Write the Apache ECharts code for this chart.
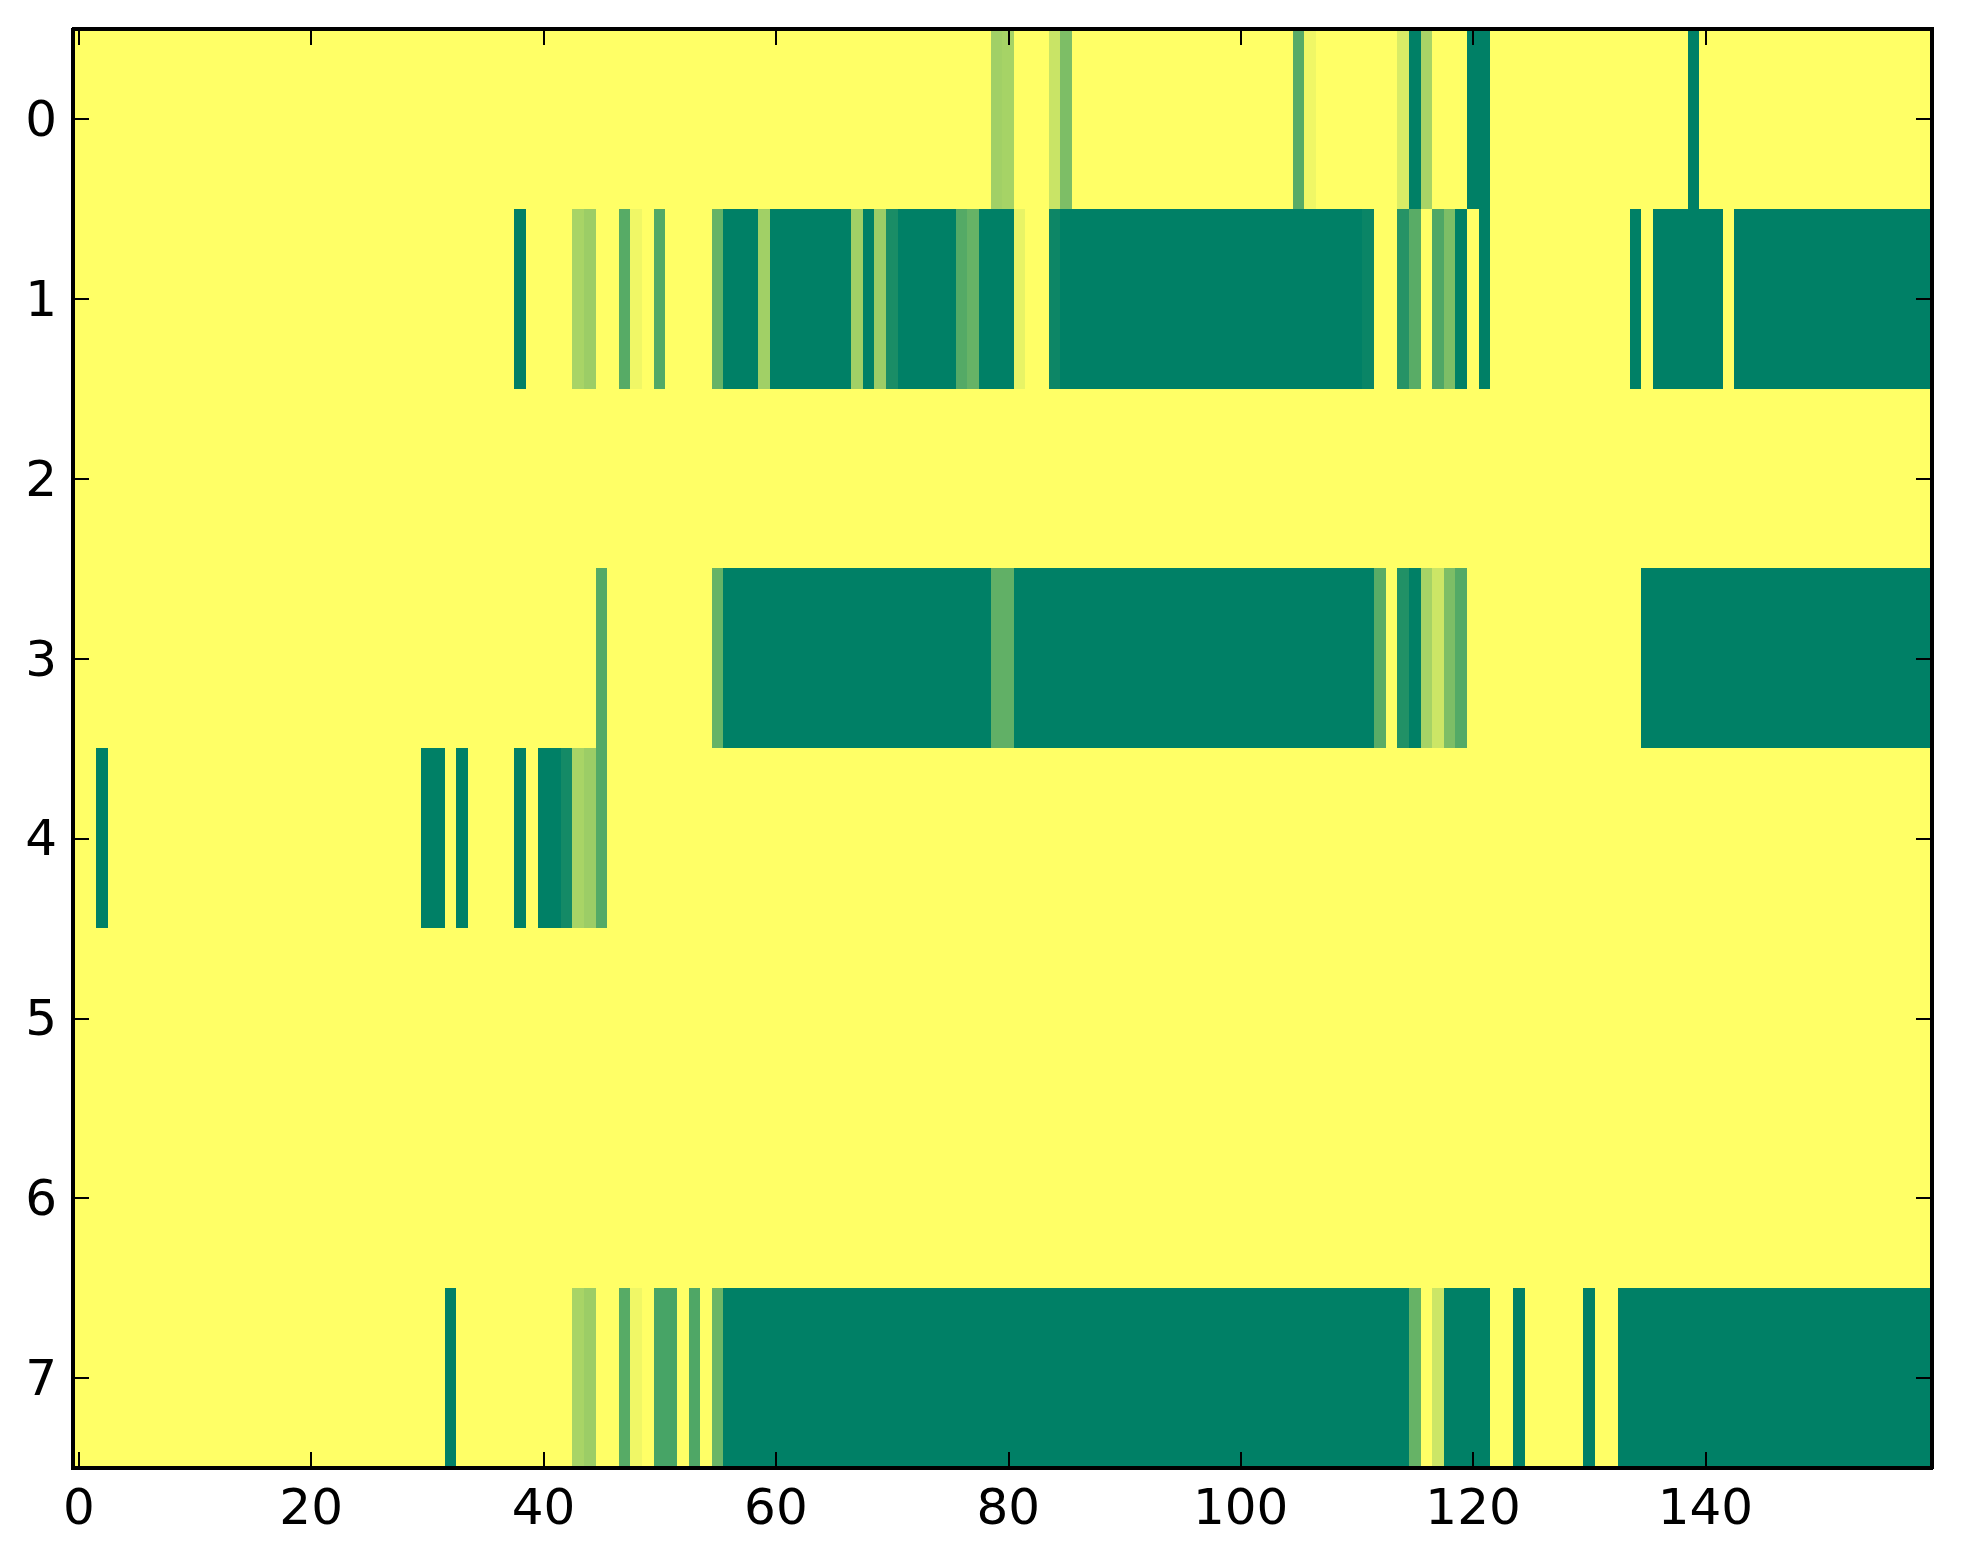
<!DOCTYPE html>
<html>
<head>
<meta charset="utf-8">
<script src="https://cdn.jsdelivr.net/npm/echarts@6/dist/echarts.min.js"></script>
<style>
html,body{margin:0;padding:0;background:#fff;}
#chart{width:1963px;height:1564px;}
#chart svg path{shape-rendering:crispEdges;}
</style>
</head>
<body>
<div id="chart"></div>
<script>
// Row labels (y axis, top to bottom) and tick labels
var yCats = ['0','1','2','3','4','5','6','7'];
var xTickStep = 20;

// Cell values per row (160 columns each, 0 = yellow, 1 = dark green)
var row0 = [
 0,0,0,0,0,0,0,0,0,0,
 0,0,0,0,0,0,0,0,0,0,
 0,0,0,0,0,0,0,0,0,0,
 0,0,0,0,0,0,0,0,0,0,
 0,0,0,0,0,0,0,0,0,0,
 0,0,0,0,0,0,0,0,0,0,
 0,0,0,0,0,0,0,0,0,0,
 0,0,0,0,0,0,0,0,0,0.37,
 0.35,0,0,0,0.21,0.51,0,0,0,0,
 0,0,0,0,0,0,0,0,0,0,
 0,0,0,0,0,0.66,0.06,0,0,0,
 0,0,0,0,0.15,1,0.34,0,0,0,
 1,1,0,0,0,0,0,0,0,0,
 0,0,0,0,0,0,0,0,0,1,
 0,0,0,0,0,0,0,0,0,0,
 0,0,0,0,0,0,0,0,0,0
];
var row1 = [
 0,0,0,0,0,0,0,0,0,0,
 0,0,0,0,0,0,0,0,0,0,
 0,0,0,0,0,0,0,0,0,0,
 0,0,0,0,0,0,0,0,1,0,
 0,0,0,0.34,0.39,0,0,0.66,0.06,0,
 0.68,0,0,0,0,0.6,1,1,1,0.37,
 1,1,1,1,1,1,1,0.37,1,0.39,
 0.9,1,1,1,1,1,0.67,0.6,1,1,
 1,0.09,0,0,0.95,1,1,1,1,1,
 1,1,1,1,1,1,1,1,1,1,
 1,1,1,1,1,1,1,1,1,1,
 1,0.96,0,0,0.85,0.65,0,0.69,0.51,1,
 0,1,0,0,0,0,0,0,0,0,
 0,0,0,0,1,0,1,1,1,1,
 1,1,0,1,1,1,1,1,1,1,
 1,1,1,1,1,1,1,1,1,1
];
var row2 = [
 0,0,0,0,0,0,0,0,0,0,
 0,0,0,0,0,0,0,0,0,0,
 0,0,0,0,0,0,0,0,0,0,
 0,0,0,0,0,0,0,0,0,0,
 0,0,0,0,0,0,0,0,0,0,
 0,0,0,0,0,0,0,0,0,0,
 0,0,0,0,0,0,0,0,0,0,
 0,0,0,0,0,0,0,0,0,0,
 0,0,0,0,0,0,0,0,0,0,
 0,0,0,0,0,0,0,0,0,0,
 0,0,0,0,0,0,0,0,0,0,
 0,0,0,0,0,0,0,0,0,0,
 0,0,0,0,0,0,0,0,0,0,
 0,0,0,0,0,0,0,0,0,0,
 0,0,0,0,0,0,0,0,0,0,
 0,0,0,0,0,0,0,0,0,0
];
var row3 = [
 0,0,0,0,0,0,0,0,0,0,
 0,0,0,0,0,0,0,0,0,0,
 0,0,0,0,0,0,0,0,0,0,
 0,0,0,0,0,0,0,0,0,0,
 0,0,0,0,0,0.67,0,0,0,0,
 0,0,0,0,0,0.6,1,1,1,1,
 1,1,1,1,1,1,1,1,1,1,
 1,1,1,1,1,1,1,1,1,0.62,
 0.62,1,1,1,1,1,1,1,1,1,
 1,1,1,1,1,1,1,1,1,1,
 1,1,1,1,1,1,1,1,1,1,
 1,1,0.65,0,0.87,1,0.35,0.2,0.51,0.67,
 0,0,0,0,0,0,0,0,0,0,
 0,0,0,0,0,1,1,1,1,1,
 1,1,1,1,1,1,1,1,1,1,
 1,1,1,1,1,1,1,1,1,1
];
var row4 = [
 0,0,1,0,0,0,0,0,0,0,
 0,0,0,0,0,0,0,0,0,0,
 0,0,0,0,0,0,0,0,0,0,
 1,1,0,1,0,0,0,0,1,0,
 1,1,0.92,0.34,0.39,0.67,0,0,0,0,
 0,0,0,0,0,0,0,0,0,0,
 0,0,0,0,0,0,0,0,0,0,
 0,0,0,0,0,0,0,0,0,0,
 0,0,0,0,0,0,0,0,0,0,
 0,0,0,0,0,0,0,0,0,0,
 0,0,0,0,0,0,0,0,0,0,
 0,0,0,0,0,0,0,0,0,0,
 0,0,0,0,0,0,0,0,0,0,
 0,0,0,0,0,0,0,0,0,0,
 0,0,0,0,0,0,0,0,0,0,
 0,0,0,0,0,0,0,0,0,0
];
var row5 = [
 0,0,0,0,0,0,0,0,0,0,
 0,0,0,0,0,0,0,0,0,0,
 0,0,0,0,0,0,0,0,0,0,
 0,0,0,0,0,0,0,0,0,0,
 0,0,0,0,0,0,0,0,0,0,
 0,0,0,0,0,0,0,0,0,0,
 0,0,0,0,0,0,0,0,0,0,
 0,0,0,0,0,0,0,0,0,0,
 0,0,0,0,0,0,0,0,0,0,
 0,0,0,0,0,0,0,0,0,0,
 0,0,0,0,0,0,0,0,0,0,
 0,0,0,0,0,0,0,0,0,0,
 0,0,0,0,0,0,0,0,0,0,
 0,0,0,0,0,0,0,0,0,0,
 0,0,0,0,0,0,0,0,0,0,
 0,0,0,0,0,0,0,0,0,0
];
var row6 = [
 0,0,0,0,0,0,0,0,0,0,
 0,0,0,0,0,0,0,0,0,0,
 0,0,0,0,0,0,0,0,0,0,
 0,0,0,0,0,0,0,0,0,0,
 0,0,0,0,0,0,0,0,0,0,
 0,0,0,0,0,0,0,0,0,0,
 0,0,0,0,0,0,0,0,0,0,
 0,0,0,0,0,0,0,0,0,0,
 0,0,0,0,0,0,0,0,0,0,
 0,0,0,0,0,0,0,0,0,0,
 0,0,0,0,0,0,0,0,0,0,
 0,0,0,0,0,0,0,0,0,0,
 0,0,0,0,0,0,0,0,0,0,
 0,0,0,0,0,0,0,0,0,0,
 0,0,0,0,0,0,0,0,0,0,
 0,0,0,0,0,0,0,0,0,0
];
var row7 = [
 0,0,0,0,0,0,0,0,0,0,
 0,0,0,0,0,0,0,0,0,0,
 0,0,0,0,0,0,0,0,0,0,
 0,0,1,0,0,0,0,0,0,0,
 0,0,0,0.34,0.39,0,0,0.66,0.06,0,
 0.72,0.72,0,0.69,0,0.58,1,1,1,1,
 1,1,1,1,1,1,1,1,1,1,
 1,1,1,1,1,1,1,1,1,1,
 1,1,1,1,1,1,1,1,1,1,
 1,1,1,1,1,1,1,1,1,1,
 1,1,1,1,1,1,1,1,1,1,
 1,1,1,1,1,0.6,0,0.2,1,1,
 1,1,0,0,1,0,0,0,0,0,
 1,0,0,1,1,1,1,1,1,1,
 1,1,1,1,1,1,1,1,1,1,
 1,1,1,1,1,1,1,1,1,1
];

var rows = [row0,row1,row2,row3,row4,row5,row6,row7];
var nCols = row0.length;
var xCats = [];
for (var i = 0; i < nCols; i++) xCats.push(String(i));

var data = [];
rows.forEach(function (r, yi) {
  r.forEach(function (v, xi) { data.push([xi, yi, v]); });
});

var FONT = 'DejaVu Sans';
function tickFn(idx) { return idx % xTickStep === 0; }

function xAxisDef(pos, showLabel) {
  return {
    type: 'category', data: xCats, position: pos, z: 10,
    boundaryGap: true,
    axisLine: { show: true, onZero: false, lineStyle: { color: '#000', width: 4 } },
    axisTick: { show: true, inside: true, length: 16, interval: tickFn, alignWithLabel: true,
                lineStyle: { color: '#000', width: 2 } },
    axisLabel: { show: showLabel, interval: tickFn, margin: 14, fontFamily: FONT, fontSize: 50, color: '#000' },
    splitLine: { show: false }
  };
}
function yAxisDef(pos, showLabel) {
  return {
    type: 'category', data: yCats, position: pos, inverse: true, z: 10,
    boundaryGap: true,
    axisLine: { show: true, onZero: false, lineStyle: { color: '#000', width: 4 } },
    axisTick: { show: true, inside: true, length: 16, interval: 0, alignWithLabel: true,
                lineStyle: { color: '#000', width: 2 } },
    axisLabel: { show: showLabel, interval: 0, margin: 16, fontFamily: FONT, fontSize: 50, color: '#000' },
    splitLine: { show: false }
  };
}

var chart = echarts.init(document.getElementById('chart'), null, { renderer: 'svg' });
chart.setOption({
  animation: false,
  backgroundColor: '#ffffff',
  grid: { left: 73, top: 29, width: 1859, height: 1439, containLabel: false },
  xAxis: [xAxisDef('bottom', true), xAxisDef('top', false)],
  yAxis: [yAxisDef('left', true), yAxisDef('right', false)],
  visualMap: {
    type: 'continuous', show: false, min: 0, max: 1, dimension: 2, seriesIndex: 0,
    inRange: { color: ['#ffff66', '#008066'] }
  },
  series: [{
    type: 'heatmap', xAxisIndex: 0, yAxisIndex: 0, data: data,
    itemStyle: { borderWidth: 0 },
    emphasis: { disabled: true },
    progressive: 0
  }]
});
</script>
</body>
</html>
